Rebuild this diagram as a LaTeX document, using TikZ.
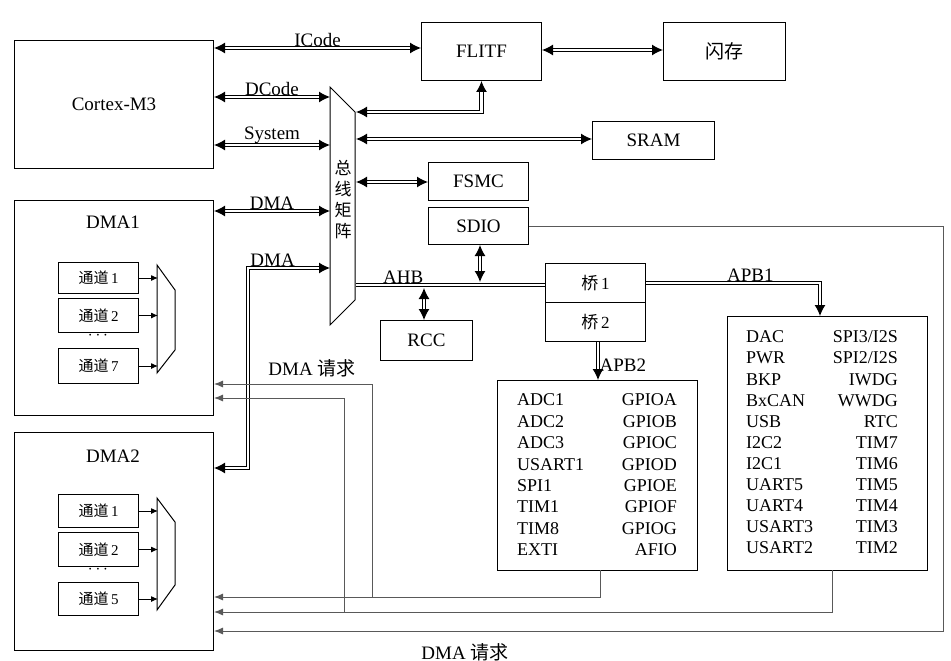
\documentclass[tikz,border=0pt]{standalone}
\usepackage{fontspec}
\setmainfont{Liberation Serif}
\newfontfamily\cjk{Noto Sans CJK SC}
\usetikzlibrary{arrows.meta,positioning,calc}
\tikzstyle{block} = [draw, line width=1pt, rectangle, inner sep=0pt, anchor=north west, font=\fontsize{19}{21}\selectfont]
\tikzstyle{chan} = [draw, line width=1pt, rectangle, inner sep=0pt, anchor=north west, minimum width=80pt, font=\fontsize{15}{17}\selectfont]
\tikzstyle{bus} = [double, double distance=2.2pt, line width=1.2pt, {Latex[length=11pt,width=11pt]}-{Latex[length=11pt,width=11pt]}]
\tikzstyle{bus1} = [double, double distance=2.2pt, line width=1.2pt, -{Latex[length=11pt,width=11pt]}]
\tikzstyle{req} = [line width=0.9pt, gray!70!black, -{Latex[length=9pt,width=7pt]}]
\tikzstyle{lbl} = [font=\fontsize{19}{21}\selectfont, inner sep=1pt]

\begin{document}
\begin{tikzpicture}[x=1pt,y=-1pt,font=\fontsize{18}{20}\selectfont]
\useasboundingbox (0,0) rectangle (951,661);

% masters
\node (cm3) [block, minimum width=199pt, minimum height=128pt] at (14,40) {Cortex-M3};
\node (dma1) [block, minimum width=199pt, minimum height=215pt] at (14,200) {};
\node[lbl] at (113,222) {DMA1};
\node (dma2) [block, minimum width=199pt, minimum height=218pt] at (14,432) {};
\node[lbl] at (113,456) {DMA2};

% channels
\node (c11) [chan, minimum height=31pt] at (58,262) {\cjk 通道\,\rmfamily 1};
\node (c12) [chan, minimum height=34pt] at (58,298) {\cjk 通道\,\rmfamily 2};
\node (c17) [chan, minimum height=35pt] at (58,348) {\cjk 通道\,\rmfamily 7};
\node at (98,336) {$\cdots$};
\draw[line width=1pt] (157,265) -- (175,290) -- (175,350) -- (157,373) -- cycle;
\foreach \c in {c11,c12,c17} \draw[line width=1pt, -{Latex[length=7pt,width=6pt]}] (\c.east) -- ++(19,0);

\node (c21) [chan, minimum height=33pt] at (58,494) {\cjk 通道\,\rmfamily 1};
\node (c22) [chan, minimum height=34pt] at (58,532) {\cjk 通道\,\rmfamily 2};
\node (c25) [chan, minimum height=33pt] at (58,582) {\cjk 通道\,\rmfamily 5};
\node at (98,570) {$\cdots$};
\draw[line width=1pt] (157,498) -- (175,522) -- (175,585) -- (157,610) -- cycle;
\foreach \c in {c21,c22,c25} \draw[line width=1pt, -{Latex[length=7pt,width=6pt]}] (\c.east) -- ++(19,0);

% bus matrix
\draw[line width=1pt] (330,87) -- (355,112) -- (355,300) -- (330,325) -- cycle;
\node (bm) [font=\cjk\fontsize{17}{21}\selectfont, align=center] at (343,200) {总\\线\\矩\\阵};
\coordinate (bmw) at (330,0);
\coordinate (bme) at (356,0);

% slaves
\node (flitf) [block, minimum width=120pt, minimum height=58pt] at (421,22) {FLITF};
\node (flash) [block, minimum width=122pt, minimum height=58pt, font=\cjk\fontsize{19}{21}\selectfont] at (663,22) {闪存};
\node (sram) [block, minimum width=122pt, minimum height=38pt] at (592,121) {SRAM};
\node (fsmc) [block, minimum width=100pt, minimum height=38pt] at (428,162) {FSMC};
\node (sdio) [block, minimum width=100pt, minimum height=37pt] at (428,207) {SDIO};
\node (rcc) [block, minimum width=92pt, minimum height=40pt] at (380,320) {RCC};
\node (br1) [block, minimum width=100pt, minimum height=39pt, font=\fontsize{17}{19}\selectfont] at (545,263) {{\cjk 桥}\,1};
\node (br2) [block, minimum width=100pt, minimum height=39pt, font=\fontsize{17}{19}\selectfont] at (545,302) {{\cjk 桥}\,2};
\node (apb2) [block, minimum width=200pt, minimum height=190pt] at (497,380) {};
\node (apb1) [block, minimum width=200pt, minimum height=254pt] at (727,316) {};

% peripheral names
\foreach \l/\r [count=\i from 0] in {ADC1/GPIOA,ADC2/GPIOB,ADC3/GPIOC,USART1/GPIOD,SPI1/GPIOE,TIM1/GPIOF,TIM8/GPIOG,EXTI/AFIO}{
  \node[anchor=west, inner sep=0pt] at (517,400+21.4*\i) {\l};
  \node[anchor=east, inner sep=0pt] at (677,400+21.4*\i) {\r};
}
\foreach \l [count=\i from 0] in {DAC,PWR,BKP,BxCAN,USB,I2C2,I2C1,UART5,UART4,USART3,USART2}{
  \node[anchor=west, inner sep=0pt] at (746,337+21.1*\i) {\l};
}
\foreach \r [count=\i from 0] in {SPI3/I2S,SPI2/I2S,IWDG,WWDG,RTC,TIM7,TIM6,TIM5,TIM4,TIM3,TIM2}{
  \node[anchor=east, inner sep=0pt] at (898,337+21.1*\i) {\r};
}

% buses
\draw[bus] (cm3.east |- 0,48) -- node[lbl, above] {ICode} (flitf.west |- 0,48);
\draw[bus] (cm3.east |- 0,97) -- node[lbl, above] {DCode} (bmw |- 0,97);
\draw[bus] (cm3.east |- 0,145) -- node[lbl, above] {System} (bmw |- 0,145);
\draw[bus] (dma1.east |- 0,211) -- node[lbl, above] {DMA} (bmw |- 0,211);
\draw[bus] (dma2.east |- 0,468) -| (248,268) -- node[lbl, above, pos=0.3] {DMA} (bmw |- 0,268);
\draw[bus] (flitf.east |- 0,50) -- (flash.west |- 0,50);
\draw[bus] (flitf.south) |- (bme |- 0,112);
\draw[bus] (bme |- 0,139) -- (sram.west |- 0,139);
\draw[bus] (bme |- 0,182) -- (fsmc.west |- 0,182);
\draw[double, double distance=2.2pt, line width=1.2pt] (bme |- 0,285) -- node[lbl, above, pos=0.25] {AHB} (br1.west |- 0,285);
\draw[bus] (sdio.south -| 480,0) -- (480,282);
\draw[bus] (424,288) -- (rcc.north -| 424,0);
\draw[bus1] (br1.east |- 0,283) -| node[lbl, above, pos=0.3] {APB1} (apb1.north -| 820,0);
\draw[bus1] (br2.south -| 598,0) -- node[lbl, right, pos=0.6] {APB2} (apb2.north -| 598,0);

% DMA requests
\draw[req] (600,570) |- (dma2.east |- 0,597);
\draw[req] (372,597) |- (dma1.east |- 0,384);
\draw[req] (832,570) |- (dma2.east |- 0,612);
\draw[req] (344,612) |- (dma1.east |- 0,398);
\draw[req] (sdio.east) -| (943,631) -- (dma2.east |- 0,631);
\node[lbl] at (312,368) {DMA {\cjk 请求}};
\node[lbl] at (465,652) {DMA {\cjk 请求}};
\end{tikzpicture}
\end{document}
